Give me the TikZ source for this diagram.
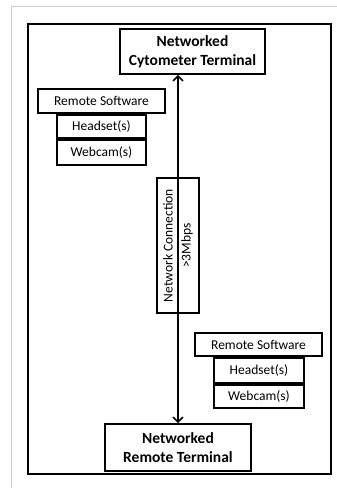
\documentclass[tikz,border=0pt]{standalone}
\usepackage{fontspec}
\setmainfont{Carlito}
\usetikzlibrary{arrows.meta}
\begin{document}
\begin{tikzpicture}[x=1pt,y=-1pt,
  box/.style={draw=black,line width=1.6pt,inner sep=0pt,align=center},
  reg/.style={box,font=\fontsize{13.5}{17}\selectfont},
  big/.style={box,font=\fontsize{15.5}{19}\selectfont\bfseries},
  conn/.style={line width=1.6pt,{Straight Barb[length=5pt,width=10pt,line width=1.6pt]}-{Straight Barb[length=5pt,width=10pt,line width=1.6pt]}}
]
\useasboundingbox (0,0) rectangle (337,488);
\fill[white] (0,0) rectangle (337,488);
\draw[line width=1pt,color={rgb,255:red,205;green,205;blue,205}] (337,6) -- (11,6) -- (11,488);
\draw[line width=2.6pt] (28,24) rectangle (331,474);

\node[big,minimum width=145pt,minimum height=45pt] (top) at (192.5,51.5) {Networked\\Cytometer Terminal};
\node[big,minimum width=146pt,minimum height=47pt] (bot) at (178,447.5) {Networked\\Remote Terminal};

\node[reg,minimum width=127pt,minimum height=24pt] (rsl) at (101.5,101) {Remote Software};
\node[reg,minimum width=89pt,minimum height=23pt] (hsl) at (101.5,126.5) {Headset(s)};
\node[reg,minimum width=89pt,minimum height=25pt] (wcl) at (101.5,152.5) {Webcam(s)};

\node[reg,minimum width=127pt,minimum height=23pt] (rsr) at (258.5,344.5) {Remote Software};
\node[reg,minimum width=90pt,minimum height=25pt] (hsr) at (259,370.5) {Headset(s)};
\node[reg,minimum width=90pt,minimum height=23pt] (wcr) at (259,396.5) {Webcam(s)};

\coordinate (atop) at (bot.north |- top.south);
\draw[conn] (bot.north) -- (atop);

\node[reg,rotate=90,minimum width=135pt,minimum height=42pt,font=\fontsize{13.5}{18}\selectfont] (nc) at (178,245.5) {Network Connection\\>3Mbps};
\end{tikzpicture}
\end{document}
